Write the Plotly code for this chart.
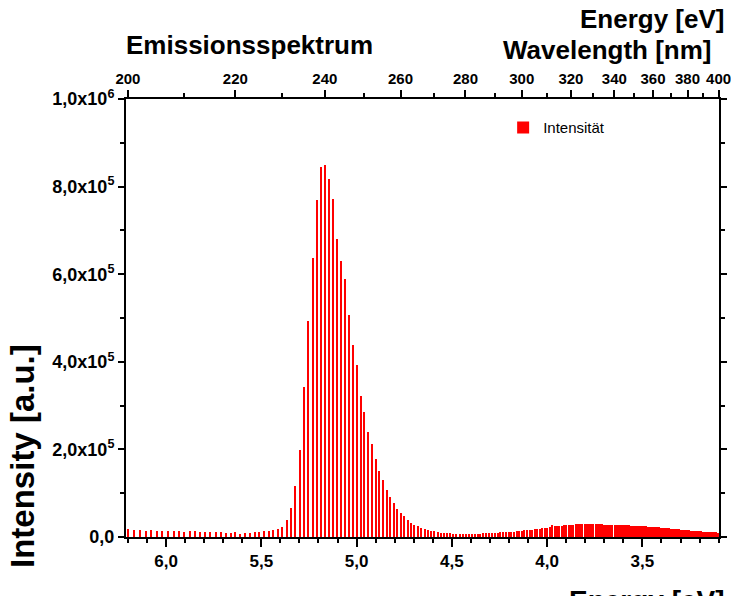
import plotly.graph_objects as go

# ---- data ----
wavelength_nm = list(range(200, 401))  # 1 nm steps
intensity = [
    19000, 16700, 16700, 14500, 16700, 14500, 13700, 12900, 14500, 13700,   # 200-209
    12200, 13700, 12900, 11400, 11400, 10700, 10700, 11400, 8400, 9100,     # 210-219
    10700, 7600, 9100, 9900, 10700, 11400, 14500, 12900, 15200, 19000,      # 220-229
    23600, 39600, 66000, 116000, 199000, 342000, 493000, 638000, 769000, 845000,  # 230-239
    849000, 817000, 772000, 680000, 631000, 590000, 506000, 439000, 392000, 323000,  # 240-249
    285000, 239000, 212000, 178000, 151000, 131000, 107000, 92000, 78000, 64000,  # 250-259
    55000, 47000, 38000, 33000, 28000, 25000, 21000, 19000, 16000, 13500,   # 260-269
    12900, 11000, 10000, 9900, 8800, 8400, 7600, 7600, 8000, 7600,          # 270-279
    7600, 7300, 7600, 7600, 7300, 8000, 8400, 8400, 8800, 9200,             # 280-289
    9900, 9900, 10300, 10300, 11000, 11400, 11800, 12200, 12900, 13700,     # 290-299
    14500, 15200, 15600, 16000, 16700, 17500, 18300, 19000, 19800, 20500,   # 300-309
    21300, 22000, 28000, 24000, 24000, 24500, 25500, 26500, 27000, 27500,   # 310-319
    28000, 28300, 28600, 28900, 29000, 29200, 29400, 29300, 29100, 29200,   # 320-329
    29100, 29000, 28900, 28700, 28600, 28300, 28100, 27900, 27800, 27600,   # 330-339
    27500, 27400, 27300, 27200, 27000, 26800, 26600, 26300, 26000, 25800,   # 340-349
    25500, 25200, 25000, 24800, 24600, 24300, 24000, 23700, 23400, 23100,   # 350-359
    22900, 22800, 22400, 22000, 21600, 21200, 20800, 20400, 20000, 19600,   # 360-369
    19100, 18700, 18300, 17900, 17600, 17200, 16800, 16400, 16000, 15600,   # 370-379
    15200, 14900, 14600, 14300, 14000, 13700, 13400, 13100, 12800, 12500,   # 380-389
    12200, 12000, 11700, 11500, 11200, 11000, 10800, 10500, 10300, 10100,   # 390-399
    9900,                                                                   # 400
]

energy_ticks = [6.0, 5.5, 5.0, 4.5, 4.0, 3.5]
energy_tick_labels = ["6,0", "5,5", "5,0", "4,5", "4,0", "3,5"]
wl_major_ticks = [200, 220, 240, 260, 280, 300, 320, 340, 360, 380, 400]
wl_minor_ticks = [210, 230, 250, 270, 290, 310, 330, 350, 370, 390]
y_ticks = [0, 200000, 400000, 600000, 800000, 1000000]
y_tick_labels = ["0,0", "2,0x10<sup>5</sup>", "4,0x10<sup>5</sup>", "6,0x10<sup>5</sup>",
                 "8,0x10<sup>5</sup>", "1,0x10<sup>6</sup>"]

HC = 1240.0  # eV*nm
energy_eV = [HC / w for w in wavelength_nm]

FONT = "Liberation Sans, Arial, sans-serif"
XRANGE = [6.21, 3.098]

fig = go.Figure()
fig.add_trace(go.Bar(
    x=energy_eV, y=intensity, width=0.007,
    marker=dict(color="#FF0000", line=dict(width=0)),
    name="Intensität",
))
# carrier for the top (wavelength) axis
fig.add_trace(go.Scatter(x=energy_eV, y=intensity, xaxis="x2", mode="none",
                         showlegend=False, hoverinfo="skip"))

fig.update_layout(
    width=731, height=596,
    margin=dict(l=126, r=12, t=99, b=59, autoexpand=False),
    plot_bgcolor="white", paper_bgcolor="white",
    bargap=0,
    showlegend=True,
    legend=dict(x=0.636, y=0.972, xanchor="left", yanchor="top",
                font=dict(family=FONT, size=15, color="black"),
                bgcolor="rgba(0,0,0,0)", itemwidth=30),
    xaxis=dict(
        range=XRANGE, tickmode="array", tickvals=energy_ticks, ticktext=energy_tick_labels,
        ticks="outside", ticklen=8, tickwidth=2, tickcolor="black",
        showline=True, linewidth=2, linecolor="black", mirror=False,
        showgrid=False, zeroline=False,
        minor=dict(tickmode="linear", tick0=0, dtick=0.1, ticks="outside",
                   ticklen=4, tickwidth=1.5, tickcolor="black", showgrid=False),
        tickfont=dict(family=FONT, size=17, color="black", weight="bold"),
    ),
    xaxis2=dict(
        overlaying="x", side="top", anchor="y", range=XRANGE,
        tickmode="array", tickvals=[HC / w for w in wl_major_ticks],
        ticktext=[str(w) for w in wl_major_ticks],
        ticks="outside", ticklen=7, tickwidth=2, tickcolor="black",
        showline=True, linewidth=2, linecolor="black",
        showgrid=False, zeroline=False, ticklabeloverflow="allow",
        minor=dict(tickmode="array", tickvals=[HC / w for w in wl_minor_ticks],
                   ticks="outside", ticklen=4, tickwidth=1.5, tickcolor="black",
                   showgrid=False),
        tickfont=dict(family=FONT, size=15, color="black", weight="bold"),
    ),
    yaxis=dict(
        range=[0, 1000000], tickmode="array", tickvals=y_ticks, ticktext=y_tick_labels,
        ticks="outside", ticklen=6, tickwidth=2, tickcolor="black",
        showline=True, linewidth=2, linecolor="black", mirror="ticks",
        showgrid=False, zeroline=False,
        minor=dict(tickmode="linear", tick0=0, dtick=100000, ticks="outside",
                   ticklen=4, tickwidth=1.5, tickcolor="black", showgrid=False),
        tickfont=dict(family=FONT, size=18, color="black", weight="bold"),
    ),
    annotations=[
        dict(text="Emissionsspektrum", xref="paper", yref="paper", x=0.209, y=1.123,
             xanchor="center", yanchor="middle", showarrow=False,
             font=dict(family=FONT, size=26, color="black", weight="bold")),
        dict(text="Energy [eV]", xref="paper", yref="paper", x=1.0135, y=1.183,
             xanchor="right", yanchor="middle", showarrow=False,
             font=dict(family=FONT, size=26, color="black", weight="bold")),
        dict(text="Wavelength [nm]", xref="paper", yref="paper", x=0.99, y=1.112,
             xanchor="right", yanchor="middle", showarrow=False,
             font=dict(family=FONT, size=26, color="black", weight="bold")),
        dict(text="Energy [eV]", xref="paper", yref="paper", x=1.0135, y=-0.105,
             xanchor="right", yanchor="top", showarrow=False,
             font=dict(family=FONT, size=28, color="black", weight="bold")),
        dict(text="Intensity [a.u.]", xref="paper", yref="paper", x=-0.1737, y=0.185,
             xanchor="center", yanchor="middle", textangle=-90, showarrow=False,
             font=dict(family=FONT, size=33, color="black", weight="bold")),
    ],
)

fig.write_html("out.html", config={"displayModeBar": False},
               post_script="document.body.style.margin='0';")
